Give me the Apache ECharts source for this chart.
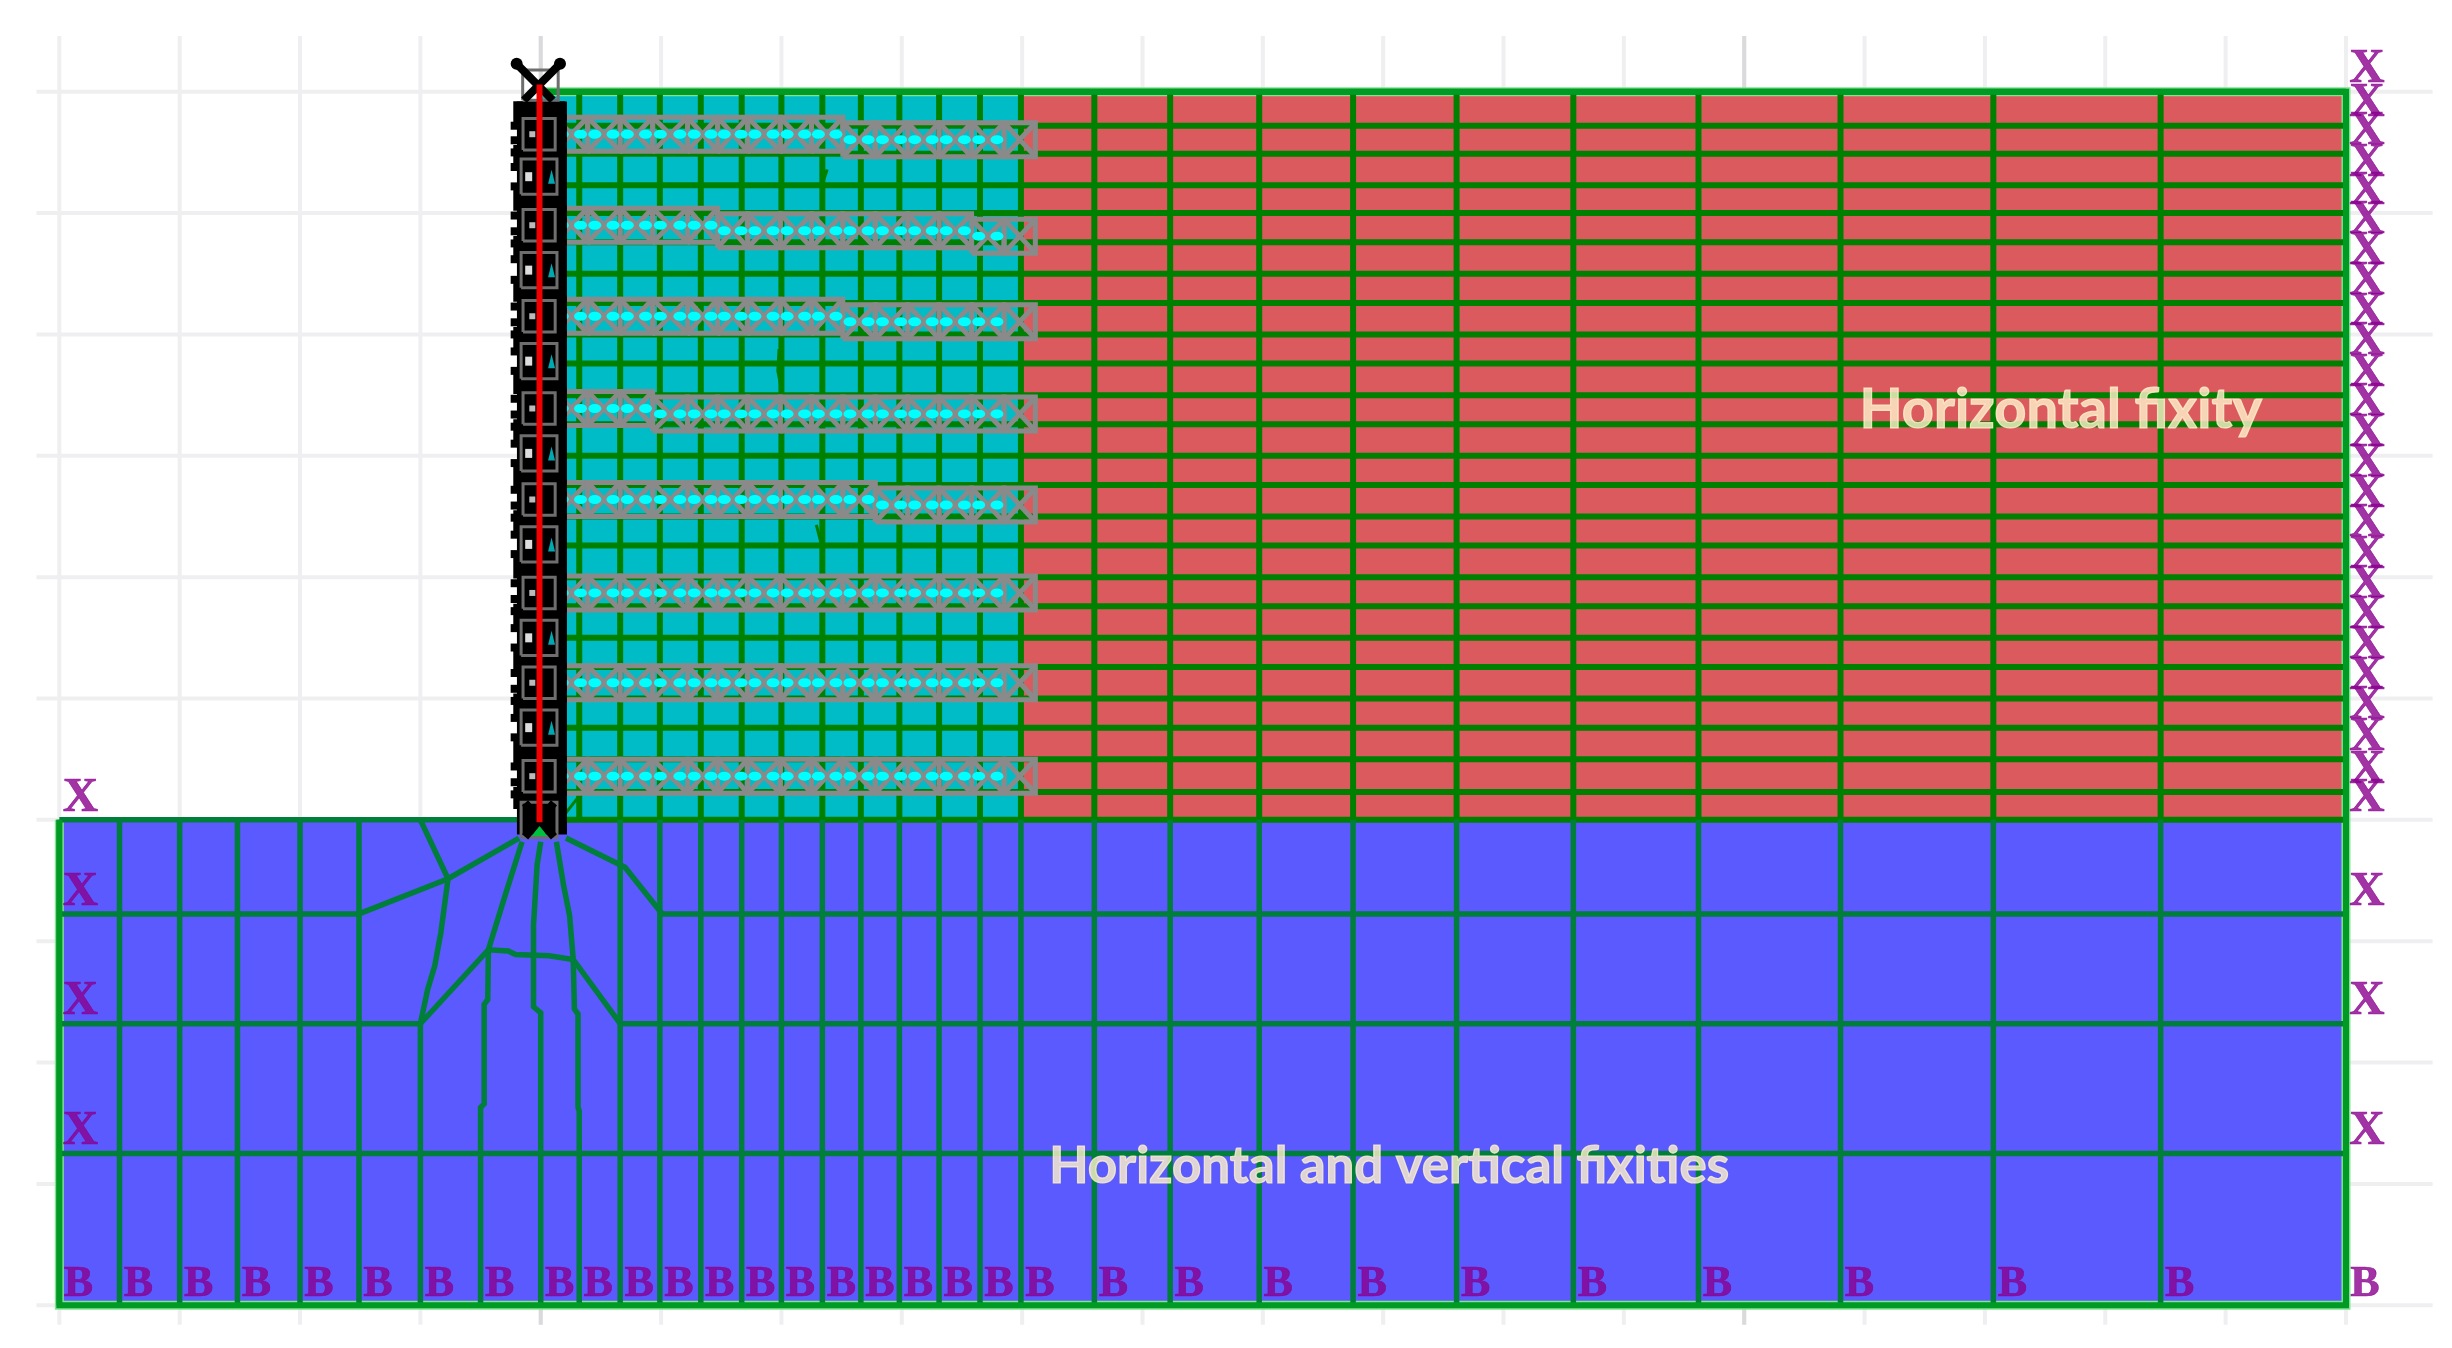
<!DOCTYPE html>
<html>
<head>
<meta charset="utf-8">
<title>Mesh and fixities</title>
<script src="https://cdn.jsdelivr.net/npm/echarts@6/dist/echarts.min.js"></script>
<style>
  html, body { margin: 0; padding: 0; background: #fff; }
  #chart { width: 2452px; height: 1348px; filter: blur(0.5px); }
</style>
</head>
<body>
<div id="chart"></div>
<script>
// model coordinates in metres, wall foot at (0, 0)
const xLeft = [-4, -3.5, -3, -2.52, -2, -1.51];
const xToe = [-1, -0.5, 0];
const xSoil = [0.32, 0.66, 0.99, 1.33, 1.67, 2.0, 2.34, 2.66, 2.98, 3.31, 3.65, 3.99];
const xRight = [4.6, 5.23, 5.97, 6.75, 7.61, 8.58, 9.62, 10.8, 12.07, 13.46, 15];
const yBackfill = [6, 5.72, 5.49, 5.23, 5, 4.76, 4.5, 4.26, 4, 3.76, 3.5, 3.26, 3, 2.76, 2.5, 2.26, 2, 1.76, 1.5, 1.26, 1, 0.76, 0.5, 0.23, 0];
const yFoundation = [-0.775, -1.68, -2.75, -4];
const gridXs = [-4, -3, -2, -1, 0, 1, 2, 3, 4, 5, 6, 7, 8, 9, 10, 11, 12, 13, 14, 15];
const gridYs = [-4, -3, -2, -1, 0, 1, 2, 3, 4, 5, 6];

// distorted mesh lines under the wall toe
const fanLines = [
  [[-1.51, -0.775], [-0.77, -0.485], [-0.18, -0.15]],
  [[1.01, -0.775], [0.7, -0.39], [0.21, -0.15]],
  [[-1, 0], [-0.77, -0.485], [-0.83, -0.93], [-0.88, -1.2], [-0.94, -1.4], [-1, -1.68], [-1, -4]],
  [[-0.155, -0.18], [-0.295, -0.62], [-0.435, -1.07], [-0.44, -1.48], [-0.47, -1.52], [-0.47, -2.34], [-0.5, -2.37], [-0.5, -4]],
  [[0, -0.18], [-0.03, -0.37], [-0.06, -0.87], [-0.06, -1.54], [0, -1.59], [0, -4]],
  [[0.13, -0.18], [0.19, -0.54], [0.24, -0.79], [0.27, -1.15], [0.28, -1.56], [0.31, -1.6], [0.31, -2.37], [0.32, -2.4], [0.32, -4]],
  [[-1, -1.68], [-0.435, -1.07], [-0.27, -1.08], [-0.21, -1.11], [0.07, -1.12], [0.27, -1.15], [0.66, -1.68]]
];
const meshKinks = [
  [[0.18, 0.02], [0.33, 0.21]],
  [[2.29, 2.43], [2.34, 2.24]],
  [[1.98, 3.88], [1.97, 3.7], [2.0, 3.55]],
  [[2.38, 5.36], [2.34, 5.24]]
];

// geogrid layers
const geoNodes = [0.12, 0.39, 0.66, 0.93, 1.22, 1.47, 1.72, 1.99, 2.25, 2.51, 2.78, 3.05, 3.31, 3.58, 3.85, 4.11];
const geoLayerY = [5.65, 4.9, 4.15, 3.39, 2.64, 1.87, 1.13, 0.36];
const geoSteps = [[2.51], [1.47, 3.58], [2.51], [0.93], [2.78], [], [], []];

// wall
const wallRectY = [5.3, 4.53, 3.78, 3.02, 2.27, 1.5, 0.76, 0];
const wallBlobY = [5.83, 5.47, 5.11, 4.72, 4.36, 3.97, 3.6, 3.21, 2.84, 2.46, 2.08, 1.69, 1.31, 0.95, 0.56, 0.18];
const wallCombY = [5.72, 5.6, 5.5, 5.38, 5.22, 4.98, 4.85, 4.75, 4.62, 4.45, 4.23, 4.1, 4.0, 3.86, 3.7, 3.47, 3.34, 3.24, 3.1, 2.94, 2.72, 2.59, 2.49, 2.35, 2.19, 1.95, 1.82, 1.72, 1.58, 1.42, 1.21, 1.08, 0.98, 0.84, 0.68, 0.44, 0.31, 0.21];

const fixLeftY = [0, -0.775, -1.68, -2.75];
const textLabels = ['Horizontal fixity', 'Horizontal and vertical fixities'];
const textSizes = [56, 51];
const textAt = [[12.63, 3.38], [7.05, -2.86]];

const zones = [[-4, -4, 15, 0], [0, 0, 4, 6], [4, 0, 15, 6]];
const zoneColors = ['#5A5AFF', '#00BCC6', '#DB5A5E'];

const PURPLE = '#8A008F';
const xMesh = [...xLeft, ...xToe, ...xSoil, ...xRight];

function hLine(y, x0, x1) { return { coords: [[x0, y], [x1, y]] }; }
function vLine(x, y0, y1) { return { coords: [[x, y0], [x, y1]] }; }

function linesSeries(data, color, width, z, extra) {
  return {
    type: 'lines', coordinateSystem: 'cartesian2d', polyline: true, silent: true, z: z,
    lineStyle: Object.assign({ color: color, width: width, opacity: 1, curveness: 0, cap: 'butt' }, extra || {}),
    data: data
  };
}

function labelSeries(points, text, font, offset, z) {
  return {
    type: 'scatter', silent: true, z: z, symbolSize: 1, itemStyle: { color: 'rgba(0,0,0,0)' },
    label: Object.assign({ show: true, position: 'inside', formatter: text, offset: offset, color: PURPLE, textBorderColor: PURPLE, textBorderWidth: 0.6 }, font),
    data: points
  };
}

function markSeries(points, symbol, size, color, z) {
  return {
    type: 'scatter', silent: true, z: z, symbol: symbol, symbolSize: size,
    itemStyle: { color: color, opacity: 1 }, data: points
  };
}

// faint background grid
let gridLines = [];
gridXs.forEach(x => gridLines.push(vLine(x, -4.16, 6.46)));
gridYs.forEach(y => gridLines.push(hLine(y, -4.19, 15.72)));
let gridStrong = [vLine(0, -4.16, 6.46), vLine(10, -4.16, 6.46)];

// mesh
let upperMesh = [];
yBackfill.forEach(y => upperMesh.push(hLine(y, 0, 15)));
[...xSoil, ...xRight].forEach(x => upperMesh.push(vLine(x, 0, 6)));

let lowerMesh = [];
lowerMesh.push(hLine(-0.775, -4, -1.51), hLine(-0.775, 0.99, 15));
lowerMesh.push(hLine(-1.68, -4, -1), hLine(-1.68, 0.66, 15));
lowerMesh.push(hLine(-2.75, -4, 15), hLine(0, -4, 0));
xLeft.forEach(x => lowerMesh.push(vLine(x, -4, 0)));
[...xSoil.slice(1), ...xRight].forEach(x => lowerMesh.push(vLine(x, -4, 0)));
fanLines.forEach(l => lowerMesh.push({ coords: l }));

let outline = [{ coords: [[-4, 0], [-4, -4], [15, -4], [15, 6], [0, 6]] }];

// geogrid cells: gray box with crossed diagonals, cyan dots along the middle
let geoCells = [];
let geoDots = [];
let geoCore = [];
geoLayerY.forEach((base, k) => {
  for (let i = 0; i < geoNodes.length - 1; i++) {
    let x0 = geoNodes[i];
    let x1 = geoNodes[i + 1];
    let drop = 0.045 * geoSteps[k].filter(s => x0 >= s).length;
    let y = base - drop;
    let h = 0.14;
    geoCells.push({ coords: [[x0, y - h], [x0, y + h], [x1, y + h], [x1, y - h], [x0, y - h]] });
    geoCells.push({ coords: [[x0, y + h], [x1, y - h]] });
    geoCells.push({ coords: [[x0, y - h], [x1, y + h]] });
    if (x1 < 4) geoDots.push([x0 + (x1 - x0) * 0.22, y], [x0 + (x1 - x0) * 0.78, y]);
  }
  geoCore.push(hLine(base, 0.01, 0.12));
});

// wall
let wallBoxes = [];
wallRectY.forEach(y => {
  wallBoxes.push({ coords: [[-0.163, y - 0.145], [-0.163, y + 0.145], [0.135, y + 0.145], [0.135, y - 0.145], [-0.163, y - 0.145]] });
});
geoLayerY.forEach(y => {
  wallBoxes.push({ coords: [[-0.147, y - 0.13], [-0.147, y + 0.13], [0.12, y + 0.13], [0.12, y - 0.13], [-0.147, y - 0.13]] });
});
wallBoxes.push({ coords: [[-0.15, 5.93], [-0.15, 6.18], [0.145, 6.18], [0.145, 5.93], [-0.15, 5.93]] });

let wallCrosses = [
  { coords: [[-0.2, 6.23], [0.1, 5.93]] }, { coords: [[0.16, 6.23], [-0.14, 5.93]] },
  { coords: [[-0.13, 0.14], [0.11, -0.14]] }, { coords: [[0.11, 0.14], [-0.13, -0.14]] }
];

const XFONT = { fontFamily: 'Liberation Serif', fontWeight: 'bold', fontSize: 49 };
const BFONT = { fontFamily: 'Liberation Serif', fontWeight: 'bold', fontSize: 44 };

const option = {
  animation: false,
  backgroundColor: '#ffffff',
  grid: { left: 0, right: 0, top: 0, bottom: 0 },
  xAxis: { type: 'value', show: false, min: -4.493, max: 15.881 },
  yAxis: { type: 'value', show: false, min: -4.352, max: 6.756 },
  series: [
    linesSeries(gridLines, '#EFEFF1', 4, 1),
    linesSeries(gridStrong, '#DADADC', 4, 1),
    {
      type: 'custom', silent: true, z: 2, clip: false,
      data: zones,
      renderItem: (params, api) => {
        let a = api.coord([api.value(0), api.value(3)]);
        let b = api.coord([api.value(2), api.value(1)]);
        return { type: 'rect', shape: { x: a[0], y: a[1], width: b[0] - a[0], height: b[1] - a[1] }, style: { fill: zoneColors[params.dataIndex] } };
      }
    },
    linesSeries(outline, '#7FE58F', 9, 3),
    linesSeries(upperMesh, '#008000', 6, 4),
    linesSeries(lowerMesh, '#007F3A', 5.5, 4),
    linesSeries(meshKinks, '#008000', 3, 4),
    linesSeries(outline, '#009A24', 6, 5),
    linesSeries(geoCells, '#8A8A8A', 5, 6),
    linesSeries(geoCore, '#00E8E8', 4, 7),
    markSeries(geoDots, 'circle', [13, 9], '#00FFFF', 7),

    linesSeries([vLine(0.01, -0.12, 5.92)], '#000000', 50, 8),
    markSeries(wallBlobY.map(y => [-0.012, y]), 'rect', [52, 22], '#000000', 8),
    markSeries(wallCombY.map(y => [-0.2, y]), 'rect', [12, 8], '#000000', 8),
    markSeries(geoLayerY.map(y => [-0.07, y]), 'rect', [6, 6], '#BBBBBB', 9),
    markSeries(wallRectY.slice(0, 7).map(y => [-0.1, y]), 'rect', [7, 9], '#DDDDDD', 9),
    markSeries(wallRectY.slice(0, 7).map(y => [0.09, y]), 'triangle', [7, 14], '#00A8B0', 9),
    markSeries([[-0.01, -0.1]], 'triangle', [20, 14], '#00C040', 9),
    linesSeries(wallBoxes, '#6E6E6E', 3, 10),
    linesSeries(wallCrosses, '#000000', 8, 11),
    markSeries([[-0.2, 6.23], [0.16, 6.23]], 'circle', 12, '#000000', 11),
    linesSeries([vLine(-0.01, -0.02, 6.06)], '#F00000', 6, 12),

    labelSeries(yBackfill.map(y => [15, y]), 'X', XFONT, [21, -22], 13),
    labelSeries(yFoundation.slice(0, 3).map(y => [15, y]), 'X', XFONT, [21, -22], 13),
    labelSeries(fixLeftY.map(y => [-4, y]), 'X', XFONT, [21, -22], 13),
    labelSeries(xMesh.map(x => [x, -4]), 'B', BFONT, [19, -21], 13),
    {
      type: 'scatter', silent: true, z: 14, symbolSize: 1, itemStyle: { color: 'rgba(0,0,0,0)' },
      label: {
        show: true, position: 'inside',
        formatter: p => textLabels[p.dataIndex],
        fontFamily: 'Lato', fontWeight: 'bold', color: '#FFF2CC',
        textBorderColor: '#FFF2CC', textBorderWidth: 1.2
      },
      data: textAt.map((c, i) => ({ value: c, label: { fontSize: textSizes[i] } }))
    }
  ]
};

const chart = echarts.init(document.getElementById('chart'));
chart.setOption(option);
</script>
</body>
</html>
